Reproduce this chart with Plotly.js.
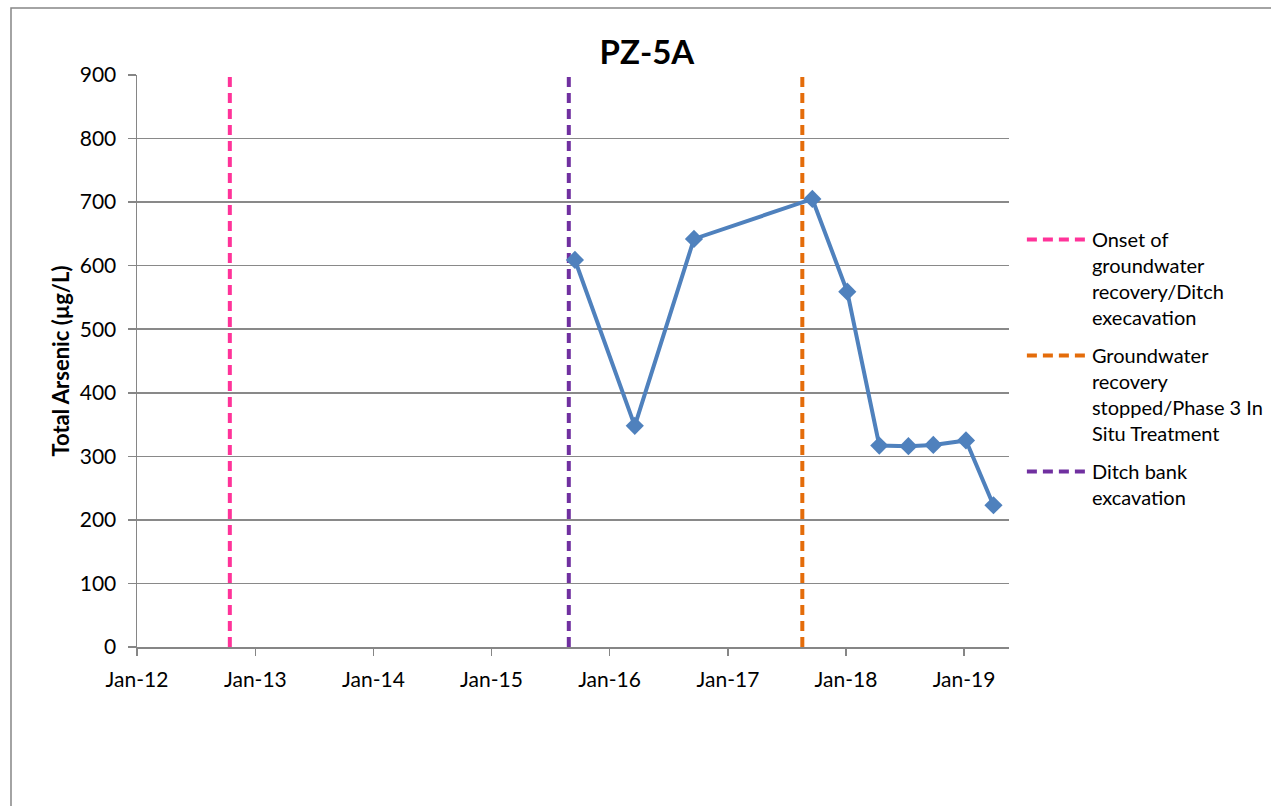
<!DOCTYPE html>
<html>
<head>
<meta charset="utf-8">
<script src="https://cdn.plot.ly/plotly-3.0.1.min.js"></script>
<style>
html,body{margin:0;padding:0;background:#fff;}
#chart{width:1271px;height:806px;}
</style>
</head>
<body>
<div id="chart"></div>
<script>
// Sample dates and Total Arsenic results (µg/L) for PZ-5A
const sampleDates = ['2015-09-16','2016-03-19','2016-09-18','2017-09-19','2018-01-05','2018-04-14','2018-07-13','2018-09-28','2019-01-07','2019-04-02'];
const arsenicValues = [609, 348, 642, 705, 559, 317, 316, 318, 325, 223];

// Event marker lines
const eventNames = ['Onset of<br>groundwater<br>recovery/Ditch<br>execavation',
                    'Groundwater<br>recovery<br>stopped/Phase 3 In<br>Situ Treatment',
                    'Ditch bank<br>excavation'];
const eventDates = ['2012-10-14', '2017-08-19', '2015-08-28'];
const eventColors = ['#FF3399', '#E46C0A', '#7030A0'];
const eventYRange = [0, 900];

const FONT = 'Lato, "Open Sans", sans-serif';

const traces = [];
eventNames.forEach((name, i) => {
  traces.push({
    x: [eventDates[i], eventDates[i]],
    y: eventYRange,
    mode: 'lines',
    name: name,
    line: {color: eventColors[i], width: 4, dash: '10px,6px'},
    legendgroup: 'g' + i,
    hoverinfo: 'skip'
  });
});
traces.push({
  x: sampleDates,
  y: arsenicValues,
  mode: 'lines+markers',
  name: 'PZ-5A',
  showlegend: false,
  line: {color: '#4F81BD', width: 4},
  marker: {symbol: 'diamond', size: 14, color: '#4F81BD'}
});

const layout = {
  width: 1271, height: 806,
  margin: {l: 137, r: 262, t: 75, b: 159},
  paper_bgcolor: '#ffffff', plot_bgcolor: '#ffffff',
  font: {family: FONT, color: '#000000', size: 21},
  title: {text: '<b>PZ-5A</b>', font: {family: FONT, size: 33, color: '#000'}, x: 0.509, xref: 'container', xanchor: 'center', y: 0.935, yanchor: 'middle'},
  showlegend: true,
  legend: {
    xref: 'container', yref: 'container',
    x: 0.804, xanchor: 'left', y: 0.727, yanchor: 'top',
    font: {family: FONT, size: 20, color: '#000'},
    valign: 'top', traceorder: 'grouped', tracegroupgap: 9,
    itemwidth: 60,
    bgcolor: 'rgba(0,0,0,0)'
  },
  xaxis: {
    type: 'date',
    range: ['2012-01-01', '2019-05-20'],
    tick0: '2012-01-01', dtick: 'M12', tickformat: '%b-%y',
    showgrid: false, zeroline: false,
    showline: true, linecolor: '#868686', linewidth: 2,
    ticks: 'outside', ticklen: 7, tickwidth: 1.5, tickcolor: '#868686',
    ticklabelstandoff: 6,
    tickfont: {family: FONT, size: 21, color: '#000'}
  },
  yaxis: {
    range: [0, 900], dtick: 100, tick0: 0,
    showgrid: true, gridcolor: '#898989', gridwidth: 1.5,
    zeroline: false,
    showline: true, linecolor: '#868686', linewidth: 1.5,
    ticks: 'outside', ticklen: 8, tickwidth: 1.5, tickcolor: '#868686',
    ticklabelstandoff: 7,
    tickfont: {family: FONT, size: 21, color: '#000'},
    title: {text: '<b>Total Arsenic (µg/L)</b>', font: {family: FONT, size: 22, color: '#000'}, standoff: 4}
  },
  shapes: [{
    type: 'rect', xref: 'paper', yref: 'paper',
    x0: -0.1445, x1: 1.6, y0: -0.6, y1: 1.117,
    line: {color: '#868686', width: 1.5}, fillcolor: 'rgba(0,0,0,0)', layer: 'below'
  }]
};

Plotly.newPlot('chart', traces, layout, {displayModeBar: false, staticPlot: true});
</script>
</body>
</html>
